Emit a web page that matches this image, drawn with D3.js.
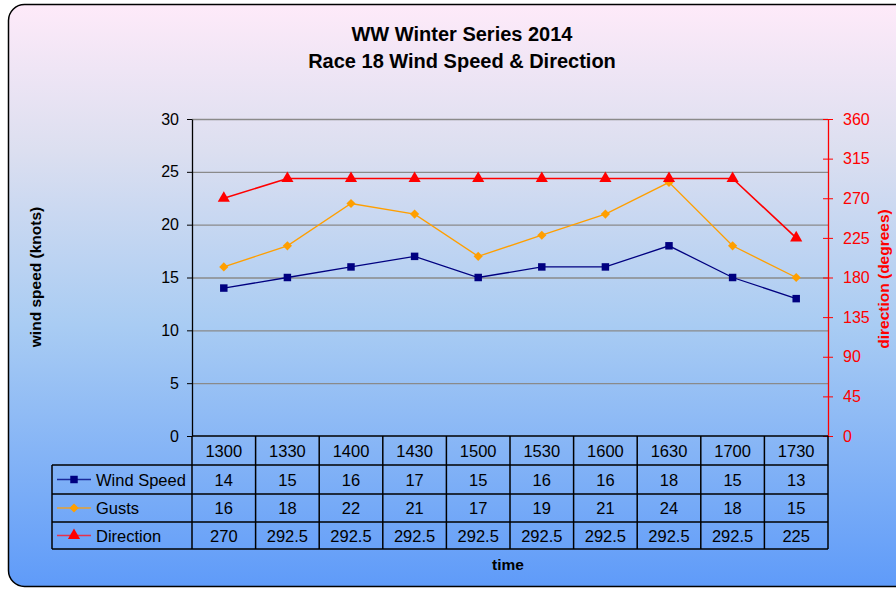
<!DOCTYPE html>
<html>
<head>
<meta charset="utf-8">
<script src="https://cdn.jsdelivr.net/npm/d3@7"></script>
<style>
  body { margin: 0; background: #fff; }
  svg { font-family: "Liberation Sans", Arial, sans-serif; display: block; }
</style>
</head>
<body>
<div id="chart"></div>
<script>
// chart data
var times = ["1300", "1330", "1400", "1430", "1500", "1530", "1600", "1630", "1700", "1730"];
var windSpeed = [14, 15, 16, 17, 15, 16, 16, 18, 15, 13];
var gusts = [16, 18, 22, 21, 17, 19, 21, 24, 18, 15];
var direction = [270, 292.5, 292.5, 292.5, 292.5, 292.5, 292.5, 292.5, 292.5, 225];
var leftTicks = [0, 5, 10, 15, 20, 25, 30];
var rightTicks = [0, 45, 90, 135, 180, 225, 270, 315, 360];

var W = 896, H = 589;
var plot = {left: 192, right: 828, top: 119, bottom: 436};
var rows = [436, 465, 494, 522, 549];
var legendLeft = 52;

var svg = d3.select("#chart").append("svg")
    .attr("width", W)
    .attr("height", H);

// background gradient
var grad = svg.append("defs").append("linearGradient")
    .attr("id", "bg")
    .attr("x1", 0).attr("y1", 0).attr("x2", 0).attr("y2", 1);
grad.append("stop").attr("offset", "0%").attr("stop-color", "#feeaf9");
grad.append("stop").attr("offset", "25%").attr("stop-color", "#dcdff0");
grad.append("stop").attr("offset", "55%").attr("stop-color", "#a9ccf3");
grad.append("stop").attr("offset", "100%").attr("stop-color", "#5f9bf9");

svg.append("rect")
    .attr("x", 8.5).attr("y", 4.5)
    .attr("width", 920).attr("height", 582)
    .attr("rx", 16).attr("ry", 16)
    .attr("fill", "url(#bg)")
    .attr("stroke", "#000")
    .attr("stroke-width", 1.5);

// title
svg.append("text")
    .attr("x", 462).attr("y", 41)
    .attr("text-anchor", "middle")
    .style("font-size", "20px").style("font-weight", "bold")
    .text("WW Winter Series 2014");
svg.append("text")
    .attr("x", 462).attr("y", 68)
    .attr("text-anchor", "middle")
    .style("font-size", "20px").style("font-weight", "bold")
    .text("Race 18 Wind Speed & Direction");

// scales
var x = d3.scaleBand()
    .domain(times)
    .range([plot.left, plot.right]);
var y = d3.scaleLinear()
    .domain([0, 30])
    .range([plot.bottom, plot.top]);
var y2 = d3.scaleLinear()
    .domain([0, 360])
    .range([plot.bottom, plot.top]);

function cx(d, i) { return x(times[i]) + x.bandwidth() / 2; }

// gridlines
svg.append("g")
    .attr("transform", "translate(" + plot.left + ",0)")
    .call(d3.axisLeft(y).tickValues(leftTicks.slice(1)).tickSize(-(plot.right - plot.left)).tickFormat(""))
    .call(function(g) {
      g.select(".domain").remove();
      g.selectAll("line").attr("stroke", "#8a8a8a").attr("stroke-width", 1.3);
    });

// left axis
svg.append("g")
    .attr("transform", "translate(" + plot.left + ",0)")
    .call(d3.axisLeft(y).tickValues(leftTicks).tickSize(5).tickSizeOuter(0).tickPadding(8))
    .call(function(g) {
      g.select(".domain").attr("stroke", "#000").attr("stroke-width", 1.3);
      g.selectAll("line").attr("stroke", "#000");
      g.selectAll("text").style("font-size", "16px").attr("fill", "#000");
    });

// right axis
svg.append("g")
    .attr("transform", "translate(" + plot.right + ",0)")
    .call(d3.axisRight(y2).tickValues(rightTicks).tickSize(5).tickSizeOuter(0).tickPadding(10))
    .call(function(g) {
      g.select(".domain").attr("stroke", "#ff0000").attr("stroke-width", 1.3);
      g.selectAll("line").attr("stroke", "#ff0000").attr("x1", -5);
      g.selectAll("text").style("font-size", "16px").attr("fill", "#ff0000");
    });

// axis titles
svg.append("text")
    .attr("transform", "translate(41,277) rotate(-90)")
    .attr("text-anchor", "middle")
    .style("font-size", "15.5px").style("font-weight", "bold")
    .text("wind speed (knots)");
svg.append("text")
    .attr("transform", "translate(889,279) rotate(-90)")
    .attr("text-anchor", "middle")
    .attr("fill", "#ff0000")
    .style("font-size", "15.5px").style("font-weight", "bold")
    .text("direction (degrees)");
svg.append("text")
    .attr("x", 508).attr("y", 570)
    .attr("text-anchor", "middle")
    .style("font-size", "15.5px").style("font-weight", "bold")
    .text("time");

// series
var diamond = d3.symbol().type(d3.symbolSquare).size(42);
var series = [
  {name: "Wind Speed", values: windSpeed, scale: y, color: "#000080", key: "#1a2a9a", shape: d3.symbolSquare, size: 56, rot: 0, width: 1.3},
  {name: "Gusts", values: gusts, scale: y, color: "#ff9f00", key: "#e8a030", shape: d3.symbolSquare, size: 42, rot: 45, width: 1.3},
  {name: "Direction", values: direction, scale: y2, color: "#ff0000", key: "#e8304a", shape: d3.symbolTriangle, size: 64, rot: 0, width: 1.6}
];

series.forEach(function(s) {
  var line = d3.line()
      .x(cx)
      .y(function(d) { return s.scale(d); });
  svg.append("path")
      .datum(s.values)
      .attr("d", line)
      .attr("fill", "none")
      .attr("stroke", s.color)
      .attr("stroke-width", s.width);
  svg.selectAll(null)
      .data(s.values)
      .enter().append("path")
      .attr("d", d3.symbol().type(s.shape).size(s.size))
      .attr("transform", function(d, i) { return "translate(" + cx(d, i) + "," + s.scale(d) + ") rotate(" + s.rot + ")"; })
      .attr("fill", s.color);
});

// data table
var table = svg.append("g");
var tableStroke = {stroke: "#000", width: 1.5};

// header row (times)
table.selectAll(".hdr")
    .data(times)
    .enter().append("text")
    .attr("x", function(d) { return x(d) + x.bandwidth() / 2; })
    .attr("y", (rows[0] + rows[1]) / 2 + 6)
    .attr("text-anchor", "middle")
    .style("font-size", "16.5px")
    .text(function(d) { return d; });

series.forEach(function(s, r) {
  var mid = (rows[r + 1] + rows[r + 2]) / 2;
  table.selectAll(null)
      .data(s.values)
      .enter().append("text")
      .attr("x", cx)
      .attr("y", mid + 6)
      .attr("text-anchor", "middle")
      .style("font-size", "16.5px")
      .text(function(d) { return d; });
  // legend key
  table.append("line")
      .attr("x1", legendLeft + 5).attr("x2", legendLeft + 39)
      .attr("y1", mid).attr("y2", mid)
      .attr("stroke", s.key)
      .attr("stroke-width", 1.5);
  table.append("path")
      .attr("d", d3.symbol().type(s.shape).size(s.size))
      .attr("transform", "translate(" + (legendLeft + 22) + "," + mid + ") rotate(" + s.rot + ")")
      .attr("fill", s.color);
  table.append("text")
      .attr("x", legendLeft + 44)
      .attr("y", mid + 6)
      .style("font-size", "16.5px")
      .text(s.name);
});

// table grid lines
var hLines = [
  {x1: plot.left, x2: plot.right, y: rows[0]},
  {x1: legendLeft, x2: plot.right, y: rows[1]},
  {x1: legendLeft, x2: plot.right, y: rows[2]},
  {x1: legendLeft, x2: plot.right, y: rows[3]},
  {x1: legendLeft, x2: plot.right, y: rows[4]}
];
table.selectAll(".hl")
    .data(hLines)
    .enter().append("line")
    .attr("x1", function(d) { return d.x1; })
    .attr("x2", function(d) { return d.x2; })
    .attr("y1", function(d) { return d.y; })
    .attr("y2", function(d) { return d.y; })
    .attr("stroke", tableStroke.stroke)
    .attr("stroke-width", tableStroke.width);

var colEdges = times.map(function(t) { return x(t); }).concat([plot.right]);
table.selectAll(".vl")
    .data(colEdges)
    .enter().append("line")
    .attr("x1", function(d) { return d; })
    .attr("x2", function(d) { return d; })
    .attr("y1", rows[0])
    .attr("y2", rows[4])
    .attr("stroke", tableStroke.stroke)
    .attr("stroke-width", tableStroke.width);
table.append("line")
    .attr("x1", legendLeft).attr("x2", legendLeft)
    .attr("y1", rows[1]).attr("y2", rows[4])
    .attr("stroke", tableStroke.stroke)
    .attr("stroke-width", tableStroke.width);
</script>
</body>
</html>
